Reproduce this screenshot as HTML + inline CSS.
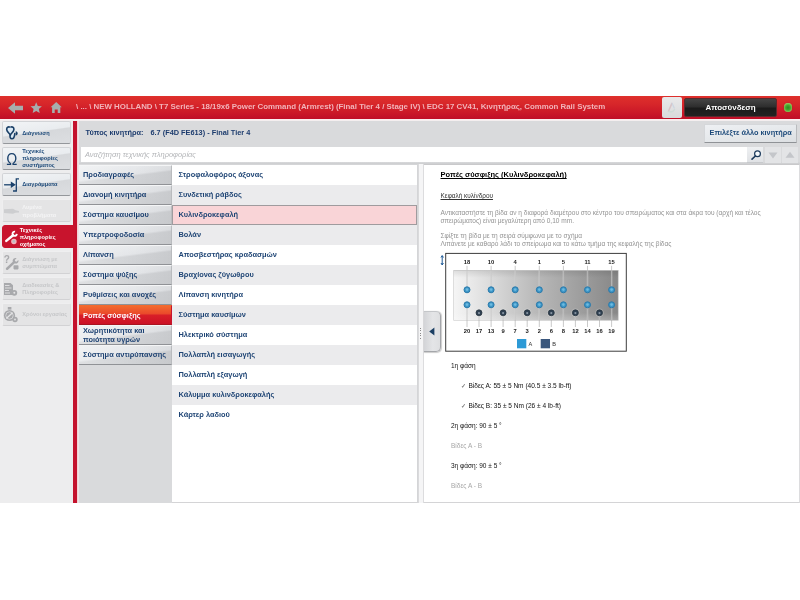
<!DOCTYPE html>
<html lang="el"><head><meta charset="utf-8"><title>Ροπές σύσφιξης</title>
<style>
*{box-sizing:border-box;margin:0;padding:0}
html,body{width:800px;height:600px;background:#fff;overflow:hidden}
body{font-family:"Liberation Sans",sans-serif;position:relative;color:#1d3c6e}
.abs{position:absolute}
#hdr{left:0;top:96px;width:800px;height:22.6px;background:linear-gradient(#df302c 0%,#d7262a 35%,#cb1828 72%,#bf0e27 100%)}
#hdr .bc{left:76px;top:0;height:23px;line-height:22.8px;font-size:7.88px;font-weight:bold;color:#f2b4b9;white-space:nowrap}
.ibox{left:661.7px;top:1.4px;width:20.2px;height:20.2px;border-radius:2px;background:linear-gradient(#e9e9ea,#d9dadb)}
.logout{left:684.3px;top:1.6px;width:92.6px;height:19.8px;border-radius:2px;background:linear-gradient(#454545 0%,#2e2e2e 45%,#1b1b1b 55%,#222 100%);border:1px solid #5a2a2e;color:#fff;font-weight:bold;font-size:8px;line-height:18px;text-align:center}
.led{left:783.7px;top:6.9px;width:8.8px;height:8.8px;border-radius:50%;background:radial-gradient(circle at 50% 52%,#2e8a23 0%,#48a730 40%,#7cc650 65%,#dfeeb0 92%,#e9f1c0 100%);box-shadow:0 0 1px .5px rgba(150,40,30,.45)}
#sub{left:0;top:118.6px;width:800px;height:3px;background:linear-gradient(#fdeff0,#f4eeef 50%,#e2e3e5)}
#side{left:0;top:121px;width:73px;height:382px;background:#ededee}
#rbar{left:73px;top:121px;width:4px;height:382px;background:#c4122d}
#rbar2{left:77px;top:121px;width:2px;height:382px;background:linear-gradient(90deg,#f3c9cd,#ececee)}
#main{left:79px;top:121px;width:721px;height:382px;background:linear-gradient(#d9dadc 0,#d9dadc 41px,#cfd0d2 42.5px,#d4d5d7 43.5px)}
.sb{left:2px;width:69px;height:23.3px;border-radius:2px;background:linear-gradient(172deg,#f2f4f6 0%,#e9ecef 46%,#d6d8db 50%,#dcdee1 100%);border:1px solid #d2d4d7;border-bottom:1px solid #94979b;font-size:5.65px;font-weight:bold;color:#1d4a7a;line-height:7.2px}
.sb svg{position:absolute;left:2px;top:2px}
.sb span{position:absolute;left:19.2px;top:50%;transform:translateY(-50%);margin-top:.7px;white-space:nowrap}
.sb.three span{margin-top:.2px}
.sb.dis.d4{color:#f4f4f5}
.sb.act span{left:16.8px;margin-top:1.3px}
.sb.dis{background:#e4e4e5;border-color:#efeff0 #dededf #d2d2d4 #efeff0;color:#c6c7c9}
.sb.dis svg{opacity:.55}
.sb.act{background:#c8142d;border-color:#c8142d;color:#fff;width:73px;border-radius:3px 0 0 3px}
.eng{left:79px;top:122px;height:24px;line-height:21px;font-size:7.35px;font-weight:bold;color:#1d3c6e;white-space:nowrap;padding-left:6.5px}
.eng b{margin-right:7px}.eng i{font-style:normal}
.selbtn{left:704px;top:123.6px;width:93.4px;height:19px;background:linear-gradient(172deg,#eef0f3 0%,#e6e9ec 50%,#dcdfe2 100%);border:1px solid #d5d7da;border-bottom:1px solid #8f9296;border-right:1px solid #b9bbbe;border-radius:1px;font-size:7.32px;font-weight:bold;color:#1d4a7a;text-align:center;line-height:16.8px;white-space:nowrap}
.search{left:81px;top:146.5px;width:665.5px;height:15.7px;background:#fff;font-size:7.47px;font-style:italic;color:#b3b5b8;line-height:16px;padding-left:4px;white-space:nowrap}
.sbtn{top:146.5px;width:16.5px;height:16px;background:linear-gradient(#eef0f2,#e0e2e5);border:0}
.sbtn svg{position:absolute;left:0;top:0}
.s1{left:746.5px;border-bottom:1px solid #c8cacd}.s2{left:764.5px;background:#e3e4e6}.s3{left:781.5px;background:#e3e4e6}
.lbg{left:79px;top:164px;width:92.8px;height:339px;background:#d9dadc}
.lrow{left:79px;width:92.8px;height:20px;background:linear-gradient(90deg,rgba(255,255,255,.3),rgba(255,255,255,0) 60%,rgba(0,0,0,.04)),linear-gradient(173deg,#eceef0 0%,#e3e5e8 50%,#d1d3d6 57%,#cfd1d4 100%);border-bottom:1.5px solid #909296;border-right:1px solid #b9bbbe;border-top:1px solid #f4f5f6;font-size:7.4px;font-weight:bold;color:#1f4373;line-height:18.8px;padding-left:4px;white-space:nowrap}
.lrow.sel{line-height:19.8px;background:linear-gradient(#f26a2e 0%,#ea4a2b 42%,#d81e28 52%,#cb1126 100%);color:#fff;border-bottom-color:#a81420;border-top-color:#f26a2e;border-right-color:#c8142d}
.lrow.two{line-height:9.4px;padding-top:0}
.mbg{left:171.8px;top:164.5px;width:245.7px;height:338.5px;background:#fff;border-bottom:1.5px solid #d4d4d6}
.mrow{left:171.8px;width:245.7px;height:20px;font-size:7.4px;font-weight:bold;color:#1f4575;line-height:20.6px;padding-left:6.7px;white-space:nowrap;background:#fff}
.mrow.alt{background:#ebebed}
.mrow.sel{background:#f9d4d7;border:1px solid #9f9b9e;line-height:18.6px;padding-left:5.7px}
.divd{left:417.5px;top:164px;width:6.5px;height:339px;background:#f5f5f6;border-left:1px solid #dadadc;border-right:1px solid #dcdcde}
.grip{z-index:5;left:419.8px;top:328px;width:1.5px;height:12px;background:repeating-linear-gradient(#8a8a8a 0,#8a8a8a 1px,transparent 1px,transparent 2.4px)}
.handle{z-index:5;left:423.5px;top:311px;width:17px;height:41px;border-radius:0 5px 5px 0;background:linear-gradient(90deg,#d3d4d7,#e4e5e7 55%,#dedfe1);border:1px solid #a4a6aa;border-left:0;border-top-color:#c4c6c9;box-shadow:.5px .5px 1px rgba(0,0,0,.2)}
.handle svg{position:absolute;left:0;top:-1px}
.rp{left:424px;top:163.5px;width:376px;height:339.5px;background:#fff;border-top:1.5px solid #c9c9cb;border-bottom:1.5px solid #d4d4d6;border-right:1px solid #dcdcde;color:#000}
.ttl{left:16.5px;top:5.7px;font-size:7.53px;font-weight:bold;color:#000;text-decoration:underline;white-space:nowrap;line-height:10px}
.sttl{left:16.5px;top:26.5px;font-size:6.43px;color:#333;text-decoration:underline;white-space:nowrap;line-height:9px}
.par{left:16.5px;font-size:6.56px;line-height:8px;color:#939393;white-space:nowrap}
.ln{font-size:6.5px;line-height:9px;white-space:nowrap}
.ln.blk{color:#111}.ln.gry{color:#a6a6a6}
.ln em{font-style:normal;color:#7d7d7d;font-size:5.6px;font-weight:bold;margin-right:.6px}
.ln.chk{font-size:6.56px}
.dg{position:absolute;left:16px;top:89px}
</style></head><body>
<div id="hdr" class="abs">
<svg class="abs" style="left:0;top:0" width="70" height="23" viewBox="0 0 70 23"><g fill="#a7adad" transform="translate(0 .5)"><path d="M8 11.5L15 5.8v3.4h8v4.6h-8v3.4z"/><path d="M36.20 5.70L37.82 9.48L41.91 9.85L38.82 12.55L39.73 16.55L36.20 14.45L32.67 16.55L33.58 12.55L30.49 9.85L34.58 9.48z"/><path d="M56.2 5.6l5.6 5.2h-1.5v5.7h-2.6v-3.6h-3v3.6h-2.6v-5.7h-1.5z"/></g></svg>

<div class="abs bc">\ ... \ NEW HOLLAND \ T7 Series - 18/19x6 Power Command (Armrest) (Final Tier 4 / Stage IV) \ EDC 17 CV41, Κινητήρας, Common Rail System</div>
<div class="abs ibox"><svg width="20" height="20" viewBox="0 0 20 20"><g fill="none" stroke-linecap="round"><path d="M6.500 14.200l3.400-7.800" stroke="#d8c4c8" stroke-width="1.500"/><path d="M7 14.500c2.500.8 4.500 0 5.500-2" stroke="#cfdcd8" stroke-width="1.600"/><path d="M10.200 6.500l2 4.500" stroke="#cdd6e2" stroke-width="1.300"/></g></svg>
</div>
<div class="abs logout">Αποσύνδεση</div>
<div class="abs led"></div>
</div>
<div id="sub" class="abs"></div>
<div id="side" class="abs"></div><div id="rbar" class="abs"></div><div id="rbar2" class="abs"></div><div id="main" class="abs"></div>
<div class="abs sb " style="top:121.2px"><span>Διάγνωση</span></div>
<div class="abs sb three" style="top:147.13px"><span>Τεχνικές<br>πληροφορίες<br>συστήματος</span></div>
<div class="abs sb " style="top:173.06px"><span>Διαγράμματα</span></div>
<div class="abs sb dis d4" style="top:198.99px"><span>Λυμένα<br>προβλήματα</span></div>
<div class="abs sb act" style="top:224.92px"><span>Τεχνικές<br>πληροφορίες<br>οχήματος</span></div>
<div class="abs sb dis" style="top:250.85px"><span>Διάγνωση με<br>συμπτώματα</span></div>
<div class="abs sb dis" style="top:276.78px"><span>Διαδικασίες &amp;<br>Πληροφορίες</span></div>
<div class="abs sb dis" style="top:302.71px"><span>Χρόνοι εργασίας</span></div>
<svg class="abs" style="left:0;top:121px;z-index:3" width="73" height="210" viewBox="0 121 73 210">
<path d="M10.300 127C7.500 126.200 6.300 128.800 7.200 130.800C8 132.600 9.700 133.600 10.300 135C10.900 133.600 12.600 132.600 13.400 130.800C14.300 128.800 13.100 126.200 10.300 127z" fill="#dbe9f5"/><path d="M10.500 135.500C10 137.500 10.800 138.600 12 138.600C13.500 138.600 14.300 137 14.500 134z" fill="#dbe9f5"/>
<g fill="none" stroke="#1a3f66" stroke-width="1.600" stroke-linecap="round" stroke-linejoin="round">
<path d="M9.500 127C7 126.400 6.100 128.900 7.100 130.900C8 132.700 9.700 133.500 10.300 135.200M11.100 127C13.600 126.400 14.500 128.900 13.500 130.900C12.600 132.700 10.900 133.500 10.300 135.200"/>
<path d="M10.300 134.800C9.600 137 10.300 138.800 12 138.800C13.800 138.800 14.500 137 14.800 133.600"/>
</g>
<path d="M15.700 131.200C18.400 131.500 18.400 135.100 15.700 135.400z" fill="#1a3f66"/>
<text transform="translate(11.700 164.800) scale(.86 1)" font-family="Liberation Sans, sans-serif" font-size="17.300" text-anchor="middle" fill="#1a416c">Ω</text>
<g fill="none" stroke="#1a416c" stroke-width="1.300"><path d="M4.100 184.800h7"/><path d="M19 178.800h-2.700v12.200h-3.300"/></g>
<path d="M10.800 181.600l5 3.200-5 3.200z" fill="#1a416c"/>
<g fill="#cdced0"><path d="M4 209.300l9-.5 2.500 1.500 3.500.700v1.500l-3.500.300-2.500.900-9-.600z"/></g>
<g fill="none" stroke="#fff" stroke-linecap="round"><path d="M13.100 235.200L6.300 240.900" stroke-width="2.500"/><path d="M16.800 233.900A2.150 2.150 0 1 1 15.050 231.650" stroke-width="1.900" stroke-linecap="butt"/></g>
<circle cx="13.900" cy="241.400" r="2.100" fill="#b9bdc1" stroke="#f3b4bc" stroke-width="1.300"/>
<g fill="#a8a9ac"><text x="3.800" y="263.300" font-family="Liberation Sans, sans-serif" font-weight="bold" font-size="10">?</text><path d="M6.300 269.800c-.7-.7-.6-1.400 0-2l6.500-6c-.4-1.300 0-2.600 1-3.300.9-.6 1.900-.7 2.800-.3l-1.800 1.800.4 1.300 1.300.4 1.800-1.800c.4 1 .2 2.100-.6 2.900-.9.900-2.100 1-3.200.6l-6.300 6.100c-.6.700-1.400.8-1.900.3z"/><rect x="13.500" y="265.200" width="5" height="4.200" rx=".8"/></g>
<g fill="#a8a9ac"><path d="M4 283h6.500l2.500 2.300v9.700h-9z"/><circle cx="14.300" cy="292.800" r="2.900"/></g>
<g stroke="#e4e4e5" stroke-width=".9"><path d="M5 285.500h4.500M5 288h6.500M5 290.500h4M5 293h5"/></g><circle cx="14.300" cy="292.800" r="1" fill="#e4e4e5"/>
<g fill="#a8a9ac"><circle cx="9.500" cy="315.500" r="5.600"/><rect x="7.800" y="307" width="3.600" height="2.600"/><circle cx="15" cy="319.500" r="2.700"/></g>
<circle cx="9.500" cy="315.500" r="3.700" fill="none" stroke="#e4e4e5" stroke-width=".7"/><path d="M6.300 318.500l6.200-5.800" stroke="#e4e4e5" stroke-width="1.300"/><circle cx="15" cy="319.500" r=".9" fill="#e4e4e5"/>
</svg>

<div class="abs eng"><b>Τύπος κινητήρα:</b><i>6.7 (F4D FE613) - Final Tier 4</i></div>
<div class="abs selbtn">Επιλέξτε άλλο κινητήρα</div>
<div class="abs search">Αναζήτηση τεχνικής πληροφορίας</div>
<div class="abs sbtn s1"><svg width="17" height="16" viewBox="0 0 17 16"><circle cx="10.500" cy="6.800" r="2.900" fill="#f4f8fb" stroke="#1c3a5c" stroke-width="1.200"/><path d="M8.400 9L5 12.200" stroke="#1c3a5c" stroke-width="1.600" stroke-linecap="round"/></svg>
</div><div class="abs sbtn s2"><svg width="16" height="16" viewBox="0 0 16 16"><path d="M3.5 5.5h9L8 11.5z" fill="#c4c6ca"/></svg></div><div class="abs sbtn s3"><svg width="16" height="16" viewBox="0 0 16 16"><path d="M3.5 10.8h9L8 4.8z" fill="#c4c6ca"/></svg></div>
<div class="abs lbg"></div>
<div class="abs lrow" style="top:164.5px">Προδιαγραφές</div>
<div class="abs lrow" style="top:184.5px">Διανομή κινητήρα</div>
<div class="abs lrow" style="top:204.5px">Σύστημα καυσίμου</div>
<div class="abs lrow" style="top:224.5px">Υπερτροφοδοσία</div>
<div class="abs lrow" style="top:244.5px">Λίπανση</div>
<div class="abs lrow" style="top:264.5px">Σύστημα ψύξης</div>
<div class="abs lrow" style="top:284.5px">Ρυθμίσεις και ανοχές</div>
<div class="abs lrow sel" style="top:304.5px">Ροπές σύσφιξης</div>
<div class="abs lrow two" style="top:324.5px">Χωρητικότητα και<br>ποιότητα υγρών</div>
<div class="abs lrow" style="top:344.5px">Σύστημα αντιρύπανσης</div>
<div class="abs mbg"></div>
<div class="abs mrow" style="top:165px">Στροφαλοφόρος άξονας</div>
<div class="abs mrow alt" style="top:185px">Συνδετική ράβδος</div>
<div class="abs mrow sel" style="top:205px">Κυλινδροκεφαλή</div>
<div class="abs mrow alt" style="top:225px">Βολάν</div>
<div class="abs mrow" style="top:245px">Αποσβεστήρας κραδασμών</div>
<div class="abs mrow alt" style="top:265px">Βραχίονας ζύγωθρου</div>
<div class="abs mrow" style="top:285px">Λίπανση κινητήρα</div>
<div class="abs mrow alt" style="top:305px">Σύστημα καυσίμων</div>
<div class="abs mrow" style="top:325px">Ηλεκτρικό σύστημα</div>
<div class="abs mrow alt" style="top:345px">Πολλαπλή εισαγωγής</div>
<div class="abs mrow" style="top:365px">Πολλαπλή εξαγωγή</div>
<div class="abs mrow alt" style="top:385px">Κάλυμμα κυλινδροκεφαλής</div>
<div class="abs mrow" style="top:405px">Κάρτερ λαδιού</div>
<div class="abs divd"></div><div class="abs grip"></div><div class="abs handle"><svg width="17" height="42" viewBox="0 0 17 42"><path d="M5.200 20.500L10.400 16.500v8z" fill="#1b3f63"/></svg></div>
<div class="abs rp">
<div class="abs ttl">Ροπές σύσφιξης (Κυλινδροκεφαλή)</div>
<div class="abs sttl">Κεφαλή κυλίνδρου</div>
<div class="abs par" style="top:44px">Αντικαταστήστε τη βίδα αν η διαφορά διαμέτρου στο κέντρο του σπειρώματος και στα άκρα του (αρχή και τέλος<br>σπειρώματος) είναι μεγαλύτερη από 0,10 mm.</div>
<div class="abs par" style="top:67.7px">Σφίξτε τη βίδα με τη σειρά σύμφωνα με το σχήμα<br>Λιπάνετε με καθαρό λάδι το σπείρωμα και το κάτω τμήμα της κεφαλής της βίδας</div>
<svg class="dg" style="left:16px;top:85px" width="190" height="105" viewBox="440 250 190 105" font-family="Liberation Sans, sans-serif"><defs><linearGradient id="pl" x1="0" y1="0" x2="1" y2="0"><stop offset="0" stop-color="#f5f5f5"/><stop offset=".2" stop-color="#dedede"/><stop offset=".5" stop-color="#b9b9b9"/><stop offset="1" stop-color="#878787"/></linearGradient><linearGradient id="pv" x1="0" y1="0" x2="0" y2="1"><stop offset="0" stop-color="#000" stop-opacity=".10"/><stop offset=".15" stop-color="#000" stop-opacity="0"/><stop offset=".85" stop-color="#fff" stop-opacity="0"/><stop offset="1" stop-color="#fff" stop-opacity=".25"/></linearGradient></defs><rect x="445.7" y="253.4" width="180.6" height="97.8" fill="#fff" stroke="#3c3c3c" stroke-width="1"/><g stroke="#1f5a96" stroke-width="1" fill="none"><path d="M442.2 256v8.500"/><path d="M441 257.500l1.200-2 1.200 2M441 263l1.200 2 1.200-2"/></g><rect x="453.700" y="270.300" width="164.500" height="50" fill="url(#pl)" stroke="#c9c9c9" stroke-width=".6"/><rect x="453.700" y="270.300" width="164.500" height="50" fill="url(#pv)"/><path d="M467.0 270.300V290M467.0 305V320.300" stroke="#fff" stroke-width="1.300" opacity=".55"/><path d="M467.0 265.800V290M467.0 305V327" stroke="#9d9d9d" stroke-width=".55"/><path d="M491.1 270.300V290M491.1 305V320.300" stroke="#fff" stroke-width="1.300" opacity=".55"/><path d="M491.1 265.800V290M491.1 305V327" stroke="#9d9d9d" stroke-width=".55"/><path d="M515.2 270.300V290M515.2 305V320.300" stroke="#fff" stroke-width="1.300" opacity=".55"/><path d="M515.2 265.800V290M515.2 305V327" stroke="#9d9d9d" stroke-width=".55"/><path d="M539.3 270.300V290M539.3 305V320.300" stroke="#fff" stroke-width="1.300" opacity=".55"/><path d="M539.3 265.800V290M539.3 305V327" stroke="#9d9d9d" stroke-width=".55"/><path d="M563.4 270.300V290M563.4 305V320.300" stroke="#fff" stroke-width="1.300" opacity=".55"/><path d="M563.4 265.800V290M563.4 305V327" stroke="#9d9d9d" stroke-width=".55"/><path d="M587.5 270.300V290M587.5 305V320.300" stroke="#fff" stroke-width="1.300" opacity=".55"/><path d="M587.5 265.800V290M587.5 305V327" stroke="#9d9d9d" stroke-width=".55"/><path d="M611.6 270.300V290M611.6 305V320.300" stroke="#fff" stroke-width="1.300" opacity=".55"/><path d="M611.6 265.800V290M611.6 305V327" stroke="#9d9d9d" stroke-width=".55"/><path d="M479.0 313V320.300" stroke="#fff" stroke-width="1.300" opacity=".55"/><path d="M479.0 313V327" stroke="#9d9d9d" stroke-width=".55"/><path d="M503.1 313V320.300" stroke="#fff" stroke-width="1.300" opacity=".55"/><path d="M503.1 313V327" stroke="#9d9d9d" stroke-width=".55"/><path d="M527.2 313V320.300" stroke="#fff" stroke-width="1.300" opacity=".55"/><path d="M527.2 313V327" stroke="#9d9d9d" stroke-width=".55"/><path d="M551.3 313V320.300" stroke="#fff" stroke-width="1.300" opacity=".55"/><path d="M551.3 313V327" stroke="#9d9d9d" stroke-width=".55"/><path d="M575.4 313V320.300" stroke="#fff" stroke-width="1.300" opacity=".55"/><path d="M575.4 313V327" stroke="#9d9d9d" stroke-width=".55"/><path d="M599.5 313V320.300" stroke="#fff" stroke-width="1.300" opacity=".55"/><path d="M599.5 313V327" stroke="#9d9d9d" stroke-width=".55"/><circle cx="467.0" cy="289.8" r="3" fill="#3f97c8" stroke="#2a7aab" stroke-width="1"/><circle cx="467.0" cy="289.6" r="1.300" fill="#6dbbe0"/><circle cx="467.0" cy="304.8" r="3" fill="#3f97c8" stroke="#2a7aab" stroke-width="1"/><circle cx="467.0" cy="304.6" r="1.300" fill="#6dbbe0"/><circle cx="491.1" cy="289.8" r="3" fill="#3f97c8" stroke="#2a7aab" stroke-width="1"/><circle cx="491.1" cy="289.6" r="1.300" fill="#6dbbe0"/><circle cx="491.1" cy="304.8" r="3" fill="#3f97c8" stroke="#2a7aab" stroke-width="1"/><circle cx="491.1" cy="304.6" r="1.300" fill="#6dbbe0"/><circle cx="515.2" cy="289.8" r="3" fill="#3f97c8" stroke="#2a7aab" stroke-width="1"/><circle cx="515.2" cy="289.6" r="1.300" fill="#6dbbe0"/><circle cx="515.2" cy="304.8" r="3" fill="#3f97c8" stroke="#2a7aab" stroke-width="1"/><circle cx="515.2" cy="304.6" r="1.300" fill="#6dbbe0"/><circle cx="539.3" cy="289.8" r="3" fill="#3f97c8" stroke="#2a7aab" stroke-width="1"/><circle cx="539.3" cy="289.6" r="1.300" fill="#6dbbe0"/><circle cx="539.3" cy="304.8" r="3" fill="#3f97c8" stroke="#2a7aab" stroke-width="1"/><circle cx="539.3" cy="304.6" r="1.300" fill="#6dbbe0"/><circle cx="563.4" cy="289.8" r="3" fill="#3f97c8" stroke="#2a7aab" stroke-width="1"/><circle cx="563.4" cy="289.6" r="1.300" fill="#6dbbe0"/><circle cx="563.4" cy="304.8" r="3" fill="#3f97c8" stroke="#2a7aab" stroke-width="1"/><circle cx="563.4" cy="304.6" r="1.300" fill="#6dbbe0"/><circle cx="587.5" cy="289.8" r="3" fill="#3f97c8" stroke="#2a7aab" stroke-width="1"/><circle cx="587.5" cy="289.6" r="1.300" fill="#6dbbe0"/><circle cx="587.5" cy="304.8" r="3" fill="#3f97c8" stroke="#2a7aab" stroke-width="1"/><circle cx="587.5" cy="304.6" r="1.300" fill="#6dbbe0"/><circle cx="611.6" cy="289.8" r="3" fill="#3f97c8" stroke="#2a7aab" stroke-width="1"/><circle cx="611.6" cy="289.6" r="1.300" fill="#6dbbe0"/><circle cx="611.6" cy="304.8" r="3" fill="#3f97c8" stroke="#2a7aab" stroke-width="1"/><circle cx="611.6" cy="304.6" r="1.300" fill="#6dbbe0"/><circle cx="479.0" cy="312.800" r="4.300" fill="#fff" opacity=".22"/><circle cx="479.0" cy="312.800" r="3" fill="#2f4052" stroke="#28353f" stroke-width=".8"/><circle cx="479.0" cy="313.100" r="1.100" fill="#8794a1"/><circle cx="503.1" cy="312.800" r="4.300" fill="#fff" opacity=".22"/><circle cx="503.1" cy="312.800" r="3" fill="#2f4052" stroke="#28353f" stroke-width=".8"/><circle cx="503.1" cy="313.100" r="1.100" fill="#8794a1"/><circle cx="527.2" cy="312.800" r="4.300" fill="#fff" opacity=".22"/><circle cx="527.2" cy="312.800" r="3" fill="#2f4052" stroke="#28353f" stroke-width=".8"/><circle cx="527.2" cy="313.100" r="1.100" fill="#8794a1"/><circle cx="551.3" cy="312.800" r="4.300" fill="#fff" opacity=".22"/><circle cx="551.3" cy="312.800" r="3" fill="#2f4052" stroke="#28353f" stroke-width=".8"/><circle cx="551.3" cy="313.100" r="1.100" fill="#8794a1"/><circle cx="575.4" cy="312.800" r="4.300" fill="#fff" opacity=".22"/><circle cx="575.4" cy="312.800" r="3" fill="#2f4052" stroke="#28353f" stroke-width=".8"/><circle cx="575.4" cy="313.100" r="1.100" fill="#8794a1"/><circle cx="599.5" cy="312.800" r="4.300" fill="#fff" opacity=".22"/><circle cx="599.5" cy="312.800" r="3" fill="#2f4052" stroke="#28353f" stroke-width=".8"/><circle cx="599.5" cy="313.100" r="1.100" fill="#8794a1"/><g font-size="5.800" font-weight="bold" fill="#1a1a1a" text-anchor="middle"><text x="467.0" y="264.100">18</text><text x="491.1" y="264.100">10</text><text x="515.2" y="264.100">4</text><text x="539.3" y="264.100">1</text><text x="563.4" y="264.100">5</text><text x="587.5" y="264.100">11</text><text x="611.6" y="264.100">15</text><text x="467.0" y="332.800">20</text><text x="491.1" y="332.800">13</text><text x="515.2" y="332.800">7</text><text x="539.3" y="332.800">2</text><text x="563.4" y="332.800">8</text><text x="587.5" y="332.800">14</text><text x="611.6" y="332.800">19</text><text x="479.0" y="332.800">17</text><text x="503.1" y="332.800">9</text><text x="527.2" y="332.800">3</text><text x="551.3" y="332.800">6</text><text x="575.4" y="332.800">12</text><text x="599.5" y="332.800">16</text></g><rect x="517" y="339" width="9.300" height="9.300" fill="#2d9ad6"/><rect x="540.700" y="339" width="9.300" height="9.300" fill="#3a577d"/><g font-size="5.600" fill="#333"><text x="528.500" y="345.800">A</text><text x="552.300" y="345.800">B</text></g></svg>
<div class="abs ln blk" style="left:27px;top:196.4px">1η φάση</div>
<div class="abs ln blk chk" style="left:37px;top:216.4px"><em>✓</em> Βίδες Α: 55 ± 5 Nm (40.5 ± 3.5 lb-ft)</div>
<div class="abs ln blk chk" style="left:37px;top:236.4px"><em>✓</em> Βίδες Β: 35 ± 5 Nm (26 ± 4 lb-ft)</div>
<div class="abs ln blk" style="left:27px;top:256.4px">2η φάση: 90 ± 5 °</div>
<div class="abs ln gry" style="left:27px;top:276.4px">Βίδες Α - Β</div>
<div class="abs ln blk" style="left:27px;top:296.4px">3η φάση: 90 ± 5 °</div>
<div class="abs ln gry" style="left:27px;top:316.4px">Βίδες Α - Β</div>
</div>
</body></html>
